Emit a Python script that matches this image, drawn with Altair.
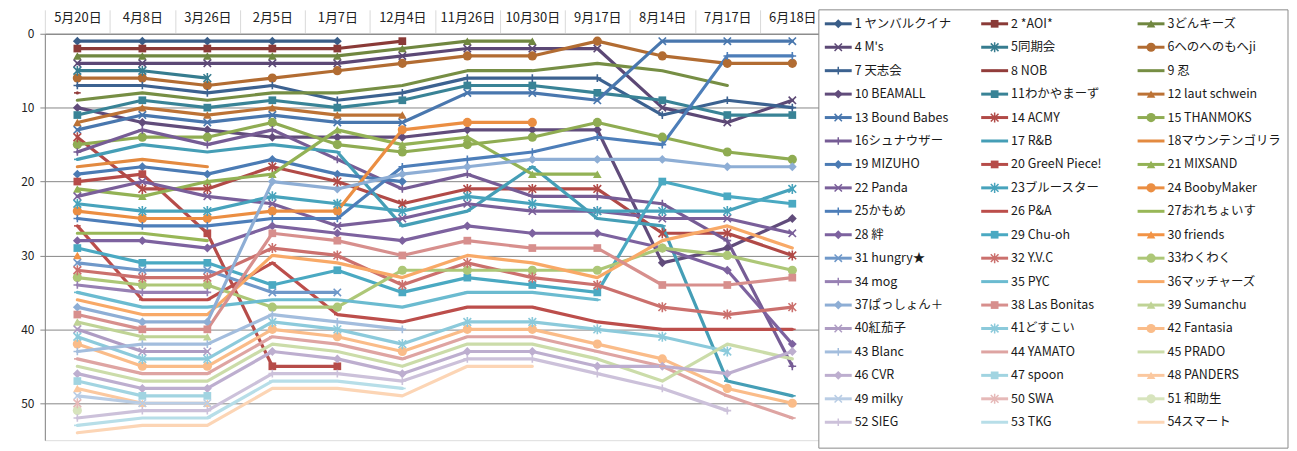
import altair as alt
import pandas as pd

# 順位の推移（左が最新）
dates = ["5月20日", "4月8日", "3月26日", "2月5日", "1月7日", "12月4日",
         "11月26日", "10月30日", "9月17日", "8月14日", "7月17日", "6月18日"]

teams = ["1 ヤンバルクイナ", "2 *AOI*", "3どんキーズ", "4 M's", "5同期会", "6へのへのもへji",
         "7 天志会", "8 NOB", "9 忍", "10 BEAMALL", "11わかやまーず", "12 laut schwein",
         "13 Bound Babes", "14 ACMY", "15 THANMOKS", "16シュナウザー", "17 R&B", "18マウンテンゴリラ",
         "19 MIZUHO", "20 GreeN Piece!", "21 MIXSAND", "22 Panda", "23ブルースター", "24 BoobyMaker",
         "25かもめ", "26 P&A", "27おれちょいす", "28 絆", "29 Chu-oh", "30 friends",
         "31 hungry★", "32 Y.V.C", "33わくわく", "34 mog", "35 PYC", "36マッチャーズ",
         "37ぱっしょん＋", "38 Las Bonitas", "39 Sumanchu", "40紅茄子", "41どすこい", "42 Fantasia",
         "43 Blanc", "44 YAMATO", "45 PRADO", "46 CVR", "47 spoon", "48 PANDERS",
         "49 milky", "50 SWA", "51 和助生", "52 SIEG", "53 TKG", "54スマート"]

t01 = [1, 1, 1, 1, 1, None, None, None, None, None, None, None]
t02 = [2, 2, 2, 2, 2, 1, None, None, None, None, None, None]
t03 = [3, 3, 3, 3, 3, 2, 1, 1, None, None, None, None]
t04 = [4, 4, 4, 4, 4, 3, 2, 2, 2, 10, 12, 9]
t05 = [5, 5, 6, None, None, None, None, None, None, None, None, None]
t06 = [6, 6, 7, 6, 5, 4, 3, 3, 1, 3, 4, 4]
t07 = [7, 7, 8, 7, 9, 8, 6, 6, 6, 11, 9, 10]
t08 = [8, None, None, None, None, None, None, None, None, None, None, None]
t09 = [9, 8, 9, 8, 8, 7, 5, 5, 4, 5, 7, None]
t10 = [10, 12, 13, 14, 14, 14, 13, 13, 13, 31, 29, 25]
t11 = [11, 9, 10, 9, 10, 9, 7, 7, 8, 9, 11, 11]
t12 = [12, 10, 11, 10, 11, 11, None, None, None, None, None, None]
t13 = [13, 11, 12, 11, 12, 12, 8, 8, 9, 1, 1, 1]
t14 = [14, 21, 21, 18, 20, 23, 21, 21, 21, 27, 27, 30]
t15 = [15, 14, 14, 12, 15, 16, 15, 14, 12, 14, 16, 17]
t16 = [16, 13, 15, 13, 17, 21, 19, 22, 22, 23, 28, 45]
t17 = [17, 15, 16, 15, 16, 26, 24, 18, 25, 26, 47, 49]
t18 = [18, 17, 18, None, None, None, None, None, None, None, None, None]
t19 = [19, 18, 19, 17, 19, 20, None, None, None, None, None, None]
t20 = [20, 19, 27, 45, 45, None, None, None, None, None, None, None]
t21 = [21, 22, 20, 19, 13, 15, 14, 19, 19, None, None, None]
t22 = [22, 20, 22, 23, 26, 25, 23, 24, 24, 25, 25, 27]
t23 = [23, 24, 24, 22, 23, 24, 22, 23, 24, 24, 24, 21]
t24 = [24, 25, 25, 24, 24, 13, 12, 12, None, None, None, None]
t25 = [25, 26, 26, 25, 25, 18, 17, 16, 14, 15, 3, 3]
t26 = [26, 36, 36, 31, 38, 39, 37, 37, 39, 40, 40, 40]
t27 = [27, 27, 28, None, None, None, None, None, None, None, None, None]
t28 = [28, 28, 29, 26, 27, 28, 26, 27, 27, 29, 32, 42]
t29 = [29, 31, 31, 34, 32, 35, 33, 34, 35, 20, 22, 23]
t30 = [30, None, None, None, None, None, None, None, None, None, None, None]
t31 = [31, 32, 32, 35, 35, None, None, None, None, None, None, None]
t32 = [32, 33, 33, 29, 30, 34, 31, 33, 34, 37, 38, 37]
t33 = [33, 34, 34, 37, 37, 32, 32, 32, 32, 29, 30, 32]
t34 = [34, 35, 35, None, None, None, None, None, None, None, None, None]
t35 = [35, 37, 37, 36, 36, 37, 35, 35, 36, None, None, None]
t36 = [36, 38, 38, 30, 31, 33, 30, 31, 33, 28, 26, 29]
t37 = [37, 39, 39, 20, 21, 19, 18, 17, 17, 17, 18, 18]
t38 = [38, 40, 40, 27, 28, 30, 28, 29, 29, 34, 34, 33]
t39 = [39, 41, 41, None, None, None, None, None, None, None, None, None]
t40 = [40, 43, 43, None, None, None, None, None, None, None, None, None]
t41 = [41, 44, 44, 39, 40, 42, 39, 39, 40, 41, 43, None]
t42 = [42, 45, 45, 40, 41, 43, 40, 40, 42, 44, 48, 50]
t43 = [43, 42, 42, 38, 39, 40, None, None, None, None, None, None]
t44 = [44, 46, 46, 41, 42, 44, 41, 41, 43, 45, 49, 52]
t45 = [45, 47, 47, 42, 43, 45, 42, 42, 44, 47, 42, 44]
t46 = [46, 48, 48, 43, 44, 46, 43, 43, 45, 45, 46, 43]
t47 = [47, 49, 49, None, None, None, None, None, None, None, None, None]
t48 = [48, 50, 50, None, None, None, None, None, None, None, None, None]
t49 = [49, 50, 50, None, None, None, None, None, None, None, None, None]
t50 = [50, None, None, None, None, None, None, None, None, None, None, None]
t51 = [51, None, None, None, None, None, None, None, None, None, None, None]
t52 = [52, 51, 51, 46, 46, 47, 44, 44, 46, 48, 51, None]
t53 = [53, 52, 52, 47, 47, 48, None, None, None, None, None, None]
t54 = [54, 53, 53, 48, 48, 49, 45, 45, None, None, None, None]

all_ranks = [t01, t02, t03, t04, t05, t06, t07, t08, t09, t10, t11, t12, t13, t14, t15, t16, t17, t18,
             t19, t20, t21, t22, t23, t24, t25, t26, t27, t28, t29, t30, t31, t32, t33, t34, t35, t36,
             t37, t38, t39, t40, t41, t42, t43, t44, t45, t46, t47, t48, t49, t50, t51, t52, t53, t54]

# Excel風の配色：6色 x 9段階の濃淡
accents = ["#4F81BD", "#C0504D", "#9BBB59", "#8064A2", "#4BACC6", "#F79646"]
tone_steps = [-0.28, -0.24, -0.08, -0.05, -0.02, 0.18, 0.36, 0.48, 0.6]


def tone(hex_color, f):
    rgb = [int(hex_color[i:i + 2], 16) for i in (1, 3, 5)]
    if f < 0:
        rgb = [c * (1 + f) for c in rgb]
    else:
        rgb = [c + (255 - c) * f for c in rgb]
    return "#" + "".join(f"{round(c):02x}" for c in rgb)


colors = [tone(accents[k % 6], tone_steps[k // 6]) for k in range(len(teams))]

marker_cycle = ["diamond", "square", "triangle", "x", "star", "circle", "plus", "dash", "none"]
markers = [marker_cycle[k % 9] for k in range(len(teams))]
marker_paths = {
    "diamond": "diamond",
    "square": "square",
    "triangle": "triangle-up",
    "circle": "circle",
    "x": "M-1,-1L1,1M-1,1L1,-1",
    "star": "M-1,-1L1,1M-1,1L1,-1M0,-1.3L0,1.3",
    "plus": "M-1,0L1,0M0,-1L0,1",
    "dash": "M-1,0L1,0",
}
marker_sizes = {"diamond": 80, "square": 60, "triangle": 75, "circle": 85,
                "x": 55, "star": 60, "plus": 60, "dash": 45, "none": 0}
filled_kinds = ["diamond", "square", "triangle", "circle"]
stroked_kinds = ["x", "star", "plus", "dash"]

rows = []
for k, (team, ranks) in enumerate(zip(teams, all_ranks)):
    for d, v in zip(dates, ranks):
        if v is not None:
            rows.append({"team": team, "date": d, "rank": v,
                         "marker": markers[k], "msize": marker_sizes[markers[k]]})
df = pd.DataFrame(rows)

legend_df = pd.DataFrame({
    "team": teams,
    "col": [k % 3 for k in range(len(teams))],
    "row": [k // 3 for k in range(len(teams))],
    "marker": markers,
    "msize": [marker_sizes[m] for m in markers],
})

FONT = "Noto Sans CJK JP"
color_enc = alt.Color("team:N", scale=alt.Scale(domain=teams, range=colors), legend=None)
shape_enc = alt.Shape("marker:N", scale=alt.Scale(domain=list(marker_paths), range=list(marker_paths.values())), legend=None)
size_enc = alt.Size("msize:Q", scale=None)

x_enc = alt.X("date:N", bandPosition=0.5,
              scale=alt.Scale(type="band", domain=dates, paddingInner=0, paddingOuter=0),
              axis=alt.Axis(orient="top", title=None, labelAngle=0, tickBand="extent",
                            tickSize=24, tickColor="#d9d9d9", domainColor="#878787",
                            labelPadding=-15, labelFontSize=13, labelFont=FONT, labelColor="#222222"))
y_enc = alt.Y("rank:Q", scale=alt.Scale(domain=[0, 55], reverse=True, nice=False, zero=False),
              axis=alt.Axis(values=[0, 10, 20, 30, 40, 50], title=None, grid=True,
                            gridColor="#878787", domainColor="#878787", tickColor="#878787",
                            tickSize=5, labelPadding=6, labelFontSize=12, labelFont=FONT,
                            labelColor="#222222"))

base = alt.Chart(df)
lines = base.mark_line(strokeWidth=3.2, strokeJoin="round", strokeCap="round").encode(
    x=x_enc, y=y_enc, color=color_enc)
pts_filled = base.mark_point(filled=True, opacity=1, strokeWidth=1).encode(
    x=x_enc, y=y_enc, color=color_enc, shape=shape_enc, size=size_enc
).transform_filter(alt.FieldOneOfPredicate(field="marker", oneOf=filled_kinds))
pts_stroked = base.mark_point(filled=False, opacity=1, strokeWidth=1.6).encode(
    x=x_enc, y=y_enc, color=color_enc, shape=shape_enc, size=size_enc
).transform_filter(alt.FieldOneOfPredicate(field="marker", oneOf=stroked_kinds))

main = alt.layer(lines, pts_filled, pts_stroked)

# 凡例（3列 x 18行）
lx = alt.X("col:Q", scale=alt.Scale(domain=[0, 3], range=[783, 1254]), axis=None)
ly = alt.Y("row:Q", scale=alt.Scale(domain=[0, 17], range=[-10, 390]), axis=None)

box = alt.Chart(pd.DataFrame({"k": [0]})).mark_rect(fill="white", stroke="#8a8a8a", strokeWidth=1).encode(
    x=alt.value(777), x2=alt.value(1248), y=alt.value(-24), y2=alt.value(416))
leg = alt.Chart(legend_df)
leg_lines = leg.mark_rule(strokeWidth=3, x2Offset=27).encode(x=lx, x2=alt.X2("col:Q"), y=ly, color=color_enc)
leg_filled = leg.mark_point(filled=True, opacity=1, strokeWidth=1, xOffset=13.5).encode(
    x=lx, y=ly, color=color_enc, shape=shape_enc, size=size_enc
).transform_filter(alt.FieldOneOfPredicate(field="marker", oneOf=filled_kinds))
leg_stroked = leg.mark_point(filled=False, opacity=1, strokeWidth=1.5, xOffset=13.5).encode(
    x=lx, y=ly, color=color_enc, shape=shape_enc, size=size_enc
).transform_filter(alt.FieldOneOfPredicate(field="marker", oneOf=stroked_kinds))
leg_text = leg.mark_text(align="left", baseline="middle", dx=30, fontSize=12.5, font=FONT, color="#1a1a1a").encode(
    x=lx, y=ly, text="team:N")

legend = alt.layer(box, leg_lines, leg_filled, leg_stroked, leg_text)

chart = (alt.layer(main, legend)
         .resolve_scale(x="independent", y="independent")
         .properties(width=783, height=408,
                     padding={"left": 12, "top": 0, "right": 0, "bottom": 0})
         .configure_view(stroke=None)
         .configure(background="white"))

chart.save("out.html", embed_options={"renderer": "svg", "actions": False})
